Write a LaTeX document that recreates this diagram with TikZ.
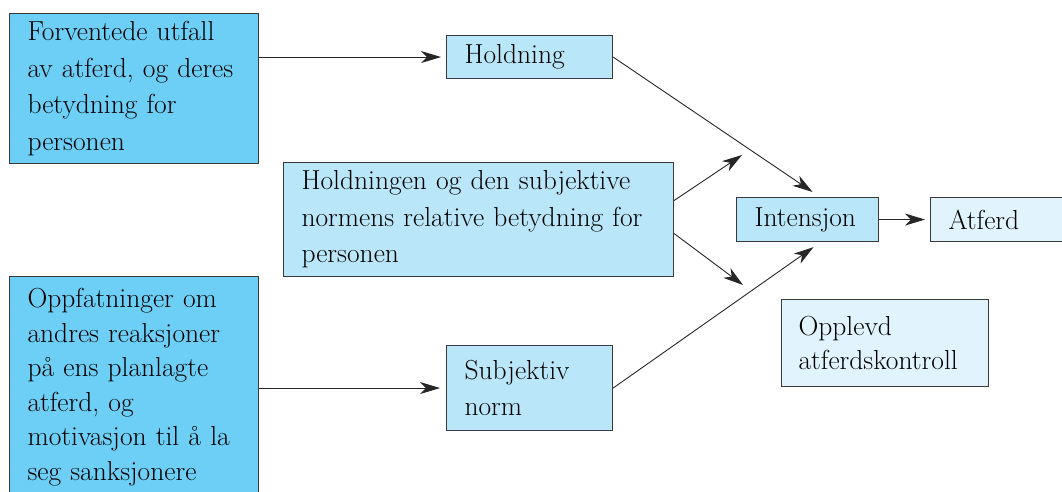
\documentclass[tikz,border=0pt]{standalone}
\usetikzlibrary{positioning}
\usetikzlibrary{arrows.meta}

\definecolor{boxdark}{HTML}{6DCFF6}
\definecolor{boxmid}{HTML}{BAE6FA}
\definecolor{boxlight}{HTML}{E1F3FD}
\definecolor{edge}{HTML}{3A3A3A}

\begin{document}
\begin{tikzpicture}[x=1pt,y=-1pt]
    \clip (0,0) rectangle (1062,492);

    \tikzstyle{box} = [rectangle, draw=edge, line width=1.1pt, anchor=north west,
        align=left, inner xsep=18pt, inner ysep=2pt,
        font=\fontsize{27.5}{36.5}\selectfont]
    \tikzstyle{pil} = [draw=black!85, line width=0.9pt,
        -{Stealth[length=20pt,width=12pt,inset=6pt]}]

    \node (forv) at (9,13) [box, fill=boxdark, text width=213pt, minimum height=150pt]
        {Forventede utfall\\av atferd, og deres\\betydning for\\personen};
    \node (holdning) at (446,35) [box, fill=boxmid, text width=130pt, minimum height=43pt]
        {Holdning};
    \node (relativ) at (283,162) [box, fill=boxmid, text width=354pt, minimum height=114pt]
        {Holdningen og den subjektive\\normens relative betydning for\\personen};
    \node (intensjon) at (736,197) [box, fill=boxmid, text width=106pt, minimum height=44pt]
        {Intensjon};
    \node (atferd) at (930,197) [box, fill=boxlight, text width=124pt, minimum height=44pt]
        {Atferd};
    \node (oppf) at (9,276) [box, fill=boxdark, text width=213pt, minimum height=221pt,
        font=\fontsize{27.5}{34.6}\selectfont]
        {Oppfatninger om\\andres reaksjoner\\på ens planlagte\\atferd, og\\motivasjon til å la\\seg sanksjonere};
    \node (subjektiv) at (446,345) [box, fill=boxmid, text width=130pt, minimum height=85pt]
        {Subjektiv\\norm};
    \node (kontroll) at (781,299) [box, fill=boxlight, text width=173pt, minimum height=87pt,
        inner xsep=17pt, font=\fontsize{27.5}{34}\selectfont]
        {Opplevd\\atferdskontroll};

    \coordinate (opp) at (742,155);
    \coordinate (ned) at (743,285);

    \draw[pil, shorten >=5pt] (holdning.west -| forv.east) -- (holdning.west);
    \draw[pil, shorten >=6pt] (subjektiv.west -| oppf.east) -- (subjektiv.west);
    \draw[pil] (holdning.east) -- ([xshift=5pt,yshift=5pt]intensjon.north);
    \draw[pil] (subjektiv.east) -- ([xshift=6pt,yshift=-5pt]intensjon.south);
    \draw[pil] ([yshift=19pt]relativ.east) -- (opp);
    \draw[pil] ([yshift=-14pt]relativ.east) -- (ned);
    \draw[pil, shorten >=5pt] (intensjon.east) -- (atferd.west);
\end{tikzpicture}
\end{document}
